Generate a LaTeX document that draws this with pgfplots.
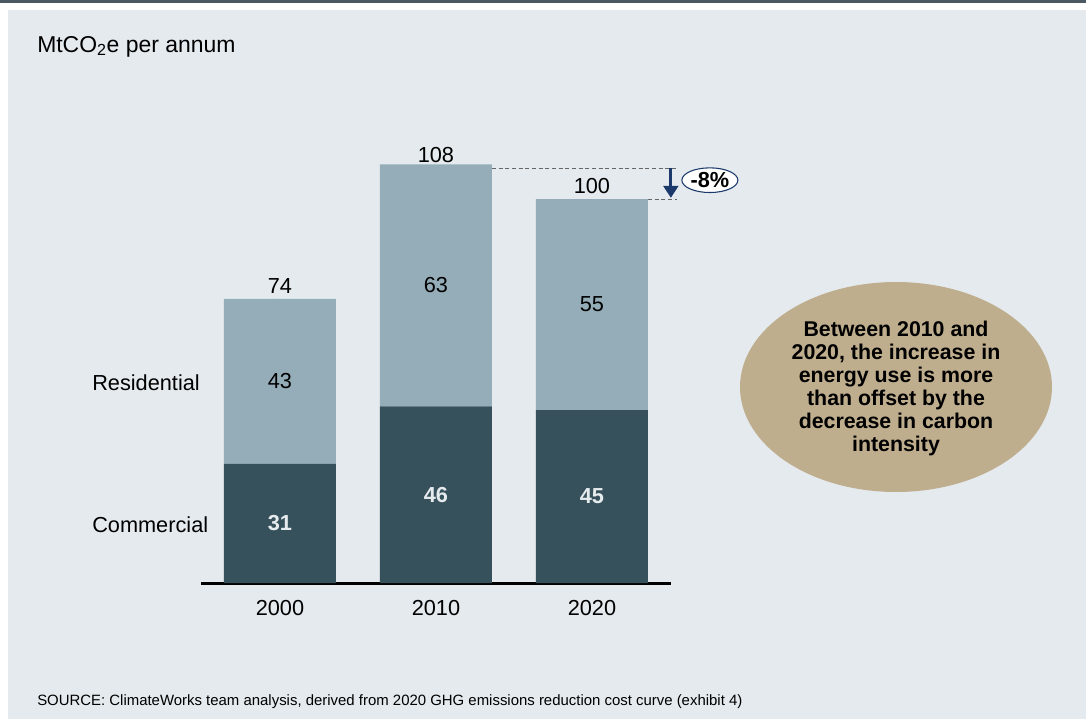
\documentclass[border=0pt]{standalone}
\usepackage{pgfplots}
\pgfplotsset{compat=1.18}
\usepackage{pgfplotstable}
\usepackage{fontspec}
\setmainfont{Liberation Sans}
\usetikzlibrary{arrows.meta,shapes.geometric}
\definecolor{bg}{HTML}{E4EAED}
\definecolor{topbar}{HTML}{4B5763}
\definecolor{resc}{HTML}{95ADB8}
\definecolor{comc}{HTML}{36505C}
\definecolor{ellc}{HTML}{BFAE8E}
\definecolor{navy}{HTML}{1B3A6B}
\definecolor{comtext}{HTML}{E6ECEE}
\newcommand{\lbl}{\fontsize{16.3}{18.5}\selectfont}

\pgfplotstableread{
x com res
0 31 43
1 46 63
2 45 55
}\data
\pgfplotstableread{
x y lab
0 15.5 31
1 23 46
2 22.5 45
}\comlab
\pgfplotstableread{
x y lab
0 52.5 43
1 77.5 63
2 72.5 55
}\reslab
\pgfplotstableread{
x y lab
0 74 74
1 108 108
2 100 100
}\totlab

\begin{document}
\begin{tikzpicture}
\begin{scope}[x=0.75pt,y=-0.75pt]
\fill[white] (0,0) rectangle (1086,722);
\fill[topbar] (0,0) rectangle (1086,3);
\fill[bg] (8,10) rectangle (1086,719);
\node[anchor=base west, inner sep=0pt, font=\fontsize{17.2}{20}\selectfont] at (37,52) {MtCO\textsubscript{2}e per annum};
\node[anchor=west, inner sep=0pt, font=\lbl] at (92,383) {Residential};
\node[anchor=west, inner sep=0pt, font=\lbl] at (92,525) {Commercial};
\fill[ellc] (896,387) ellipse [x radius=156, y radius=105];
\node[align=center, inner sep=0pt, font=\fontsize{16}{17.25}\selectfont\bfseries] at (896,388)
 {Between 2010 and\\2020, the increase in\\energy use is more\\than offset by the\\decrease in carbon\\intensity};
\node[anchor=base west, inner sep=0pt, font=\fontsize{11.2}{13}\selectfont] at (37,705)
 {SOURCE: ClimateWorks team analysis, derived from 2020 GHG emissions reduction cost curve (exhibit 4)};
\end{scope}

\begin{axis}[
  at={(150.75pt,-437.25pt)}, anchor=south west,
  x=117pt, y=2.88pt,
  xmin=-0.506, xmax=2.506, ymin=0, ymax=115,
  ybar stacked, bar width=84pt,
  axis x line=bottom, axis y line=none,
  x axis line style={-, line width=2.25pt, black},
  xtick={0,1,2}, xticklabels={2000,2010,2020},
  major tick length=0pt,
  xticklabel style={font=\lbl, anchor=base, yshift=-24.6pt},
  clip=false,
]
\addplot[fill=comc, draw=none] table[x=x,y=com] \data;
\addplot[fill=resc, draw=none] table[x=x,y=res] \data;
\draw[densely dashed, black!60, line width=0.6pt] (axis cs:1.359,108) -- (axis cs:2.545,108);
\draw[densely dashed, black!60, line width=0.6pt] (axis cs:2.359,100) -- (axis cs:2.545,100);
\draw[navy, line width=2.4pt, -{Triangle[length=9pt,width=11pt]}] (axis cs:2.506,108) -- (axis cs:2.506,100.3);
\node[ellipse, draw=navy, line width=0.8pt, fill=white, inner sep=0pt, minimum width=42pt, minimum height=18.5pt, font=\lbl\bfseries] at (axis cs:2.756,104.9) {-8\%};
\end{axis}

\begin{axis}[
  at={(150.75pt,-437.25pt)}, anchor=south west,
  x=117pt, y=2.88pt,
  xmin=-0.506, xmax=2.506, ymin=0, ymax=115,
  hide axis, clip=false,
]
\addplot[only marks, mark=*, mark size=0pt, mark options={draw=none,fill=none},
  nodes near coords, point meta=explicit symbolic,
  every node near coord/.style={anchor=center, font=\lbl\bfseries, text=comtext}]
  table[x=x,y=y,meta=lab] \comlab;
\addplot[only marks, mark=*, mark size=0pt, mark options={draw=none,fill=none},
  nodes near coords, point meta=explicit symbolic,
  every node near coord/.style={anchor=center, font=\lbl, text=black}]
  table[x=x,y=y,meta=lab] \reslab;
\addplot[only marks, mark=*, mark size=0pt, mark options={draw=none,fill=none},
  nodes near coords, point meta=explicit symbolic,
  every node near coord/.style={anchor=base, yshift=4pt, inner sep=0pt, font=\lbl, text=black}]
  table[x=x,y=y,meta=lab] \totlab;
\end{axis}
\end{tikzpicture}
\end{document}
